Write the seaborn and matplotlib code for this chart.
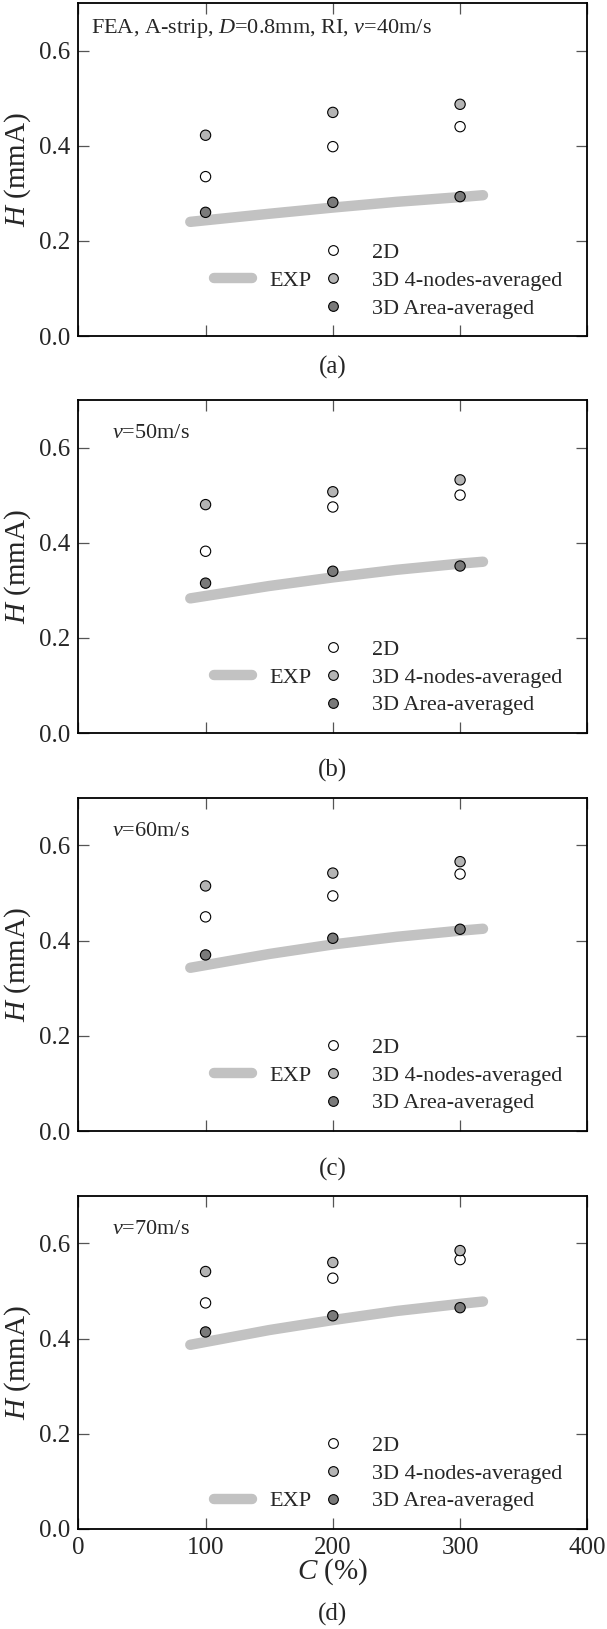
import numpy as np
import pandas as pd
import matplotlib
matplotlib.use('Agg')
import matplotlib.pyplot as plt
import seaborn as sns
from matplotlib.lines import Line2D

# concentration C (%)
c_fea = [100, 200, 300]
c_exp = [88, 150, 200, 250, 300, 318]

# H (mmA) per panel: (a) 40, (b) 50, (c) 60, (d) 70 m/s
h_2d = [[0.335, 0.398, 0.440],
        [0.382, 0.475, 0.500],
        [0.450, 0.494, 0.540],
        [0.475, 0.527, 0.566]]
h_4node = [[0.422, 0.470, 0.487],
           [0.480, 0.507, 0.532],
           [0.515, 0.542, 0.566],
           [0.541, 0.560, 0.585]]
h_area = [[0.260, 0.281, 0.293],
          [0.315, 0.340, 0.351],
          [0.370, 0.405, 0.424],
          [0.414, 0.448, 0.465]]
h_exp = [[0.240, 0.257, 0.270, 0.282, 0.292, 0.296],
         [0.283, 0.309, 0.327, 0.343, 0.356, 0.360],
         [0.343, 0.372, 0.392, 0.408, 0.421, 0.425],
         [0.387, 0.418, 0.439, 0.458, 0.473, 0.478]]

panel_labels = ['(a)', '(b)', '(c)', '(d)']
notes = [r'FEA, A-strip, $D$=0.8mm, RI, $v$=40m/s',
         r'$v$=50m/s', r'$v$=60m/s', r'$v$=70m/s']

sns.set_theme(style='ticks')
plt.rcParams['font.family'] = ['Liberation Serif', 'DejaVu Serif']
plt.rcParams['mathtext.fontset'] = 'custom'
plt.rcParams['mathtext.rm'] = 'Liberation Serif'
plt.rcParams['mathtext.it'] = 'Liberation Serif:italic'

fig = plt.figure(figsize=(6.07, 16.29), dpi=100)

left, width, height = 0.129, 0.8386, 0.2045
bottoms = [0.7937, 0.5500, 0.3057, 0.0614]
label_y = [0.7747, 0.5273, 0.2824, 0.009]
note_x = [0.024, 0.067, 0.067, 0.067]
note_y = [0.922, 0.90, 0.90, 0.90]

series_cols = {'2D': 'white', '3D 4-nodes-averaged': '#b4b4b4', '3D Area-averaged': '#7a7a7a'}
exp_col = '#c2c2c2'

for i in range(4):
    ax = fig.add_axes([left, bottoms[i], width, height])

    exp_df = pd.DataFrame({'C': c_exp, 'H': h_exp[i]})
    sns.lineplot(data=exp_df, x='C', y='H', ax=ax, color=exp_col, lw=7.5,
                 solid_capstyle='round', legend=False, zorder=2)

    pts = pd.DataFrame({
        'C': c_fea * 3,
        'H': h_2d[i] + h_4node[i] + h_area[i],
        'kind': ['2D'] * 3 + ['3D 4-nodes-averaged'] * 3 + ['3D Area-averaged'] * 3,
    })
    sns.scatterplot(data=pts, x='C', y='H', hue='kind', palette=series_cols, ax=ax,
                    s=55, edgecolor='black', linewidth=0.8, legend=False, zorder=3)

    ax.set_xlim(0, 400)
    ax.set_ylim(0, 0.7)
    ax.set_xticks([0, 100, 200, 300, 400])
    ax.set_yticks([0.0, 0.2, 0.4, 0.6])
    ax.yaxis.set_major_formatter(matplotlib.ticker.FormatStrFormatter('%.1f'))
    ax.tick_params(direction='in', length=8, width=0.9, color='#555555',
                   labelsize=18, right=True, top=True, pad=6)
    ax.set_ylabel(r'$H$ (mmA)', fontsize=21, labelpad=4)
    if i < 3:
        ax.set_xlabel('')
        ax.tick_params(labelbottom=False)
    else:
        ax.set_xlabel(r'$C$ (%)', fontsize=21, labelpad=-2)
    for sp in ax.spines.values():
        sp.set_linewidth(1.3)
        sp.set_color('black')

    ax.text(note_x[i], note_y[i], notes[i], transform=ax.transAxes, fontsize=16,
            ha='left', va='center')

    # FEA legend
    handles = [Line2D([], [], ls='', marker='o', ms=7, mfc=series_cols[k],
                      mec='black', mew=0.8, label=k) for k in series_cols]
    leg1 = ax.legend(handles=handles, loc='lower left', bbox_to_anchor=(0.448, 0.006),
                     frameon=False, fontsize=16, handlelength=1.0, handletextpad=1.27,
                     labelspacing=0.32, borderpad=0.2)
    ax.add_artist(leg1)
    # EXP legend
    exp_h = [Line2D([], [], color=exp_col, lw=7.5, solid_capstyle='round', label='EXP')]
    exp_y = 0.006 if i == 3 else 0.088
    ax.legend(handles=exp_h, loc='lower left', bbox_to_anchor=(0.236, exp_y),
              frameon=False, fontsize=16, handlelength=1.7, handletextpad=0.8,
              borderpad=0.2)

    fig.text(left + width / 2, label_y[i], panel_labels[i], ha='center', va='center',
             fontsize=18)

fig.savefig('out.png', dpi=100)
